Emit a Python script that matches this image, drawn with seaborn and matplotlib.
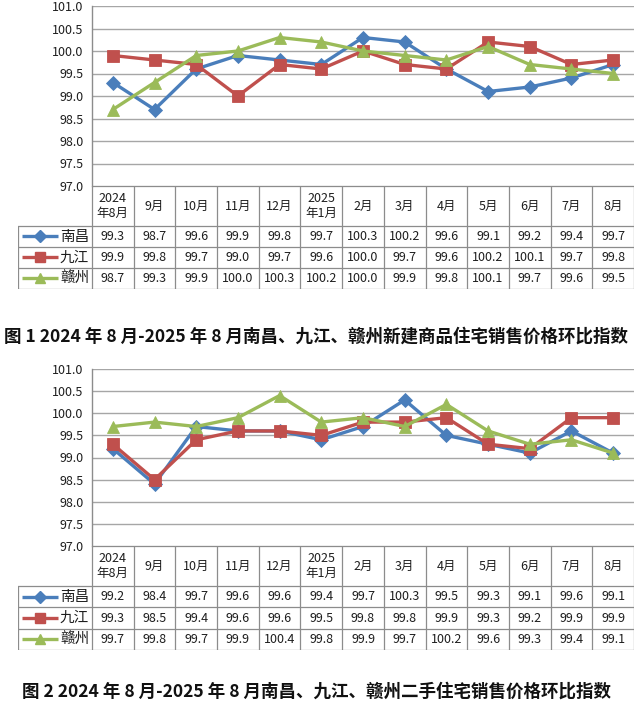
import numpy as np
import pandas as pd
import matplotlib
matplotlib.use("Agg")
import matplotlib.pyplot as plt
import seaborn as sns

months = ["2024\n年8月", "9月", "10月", "11月", "12月", "2025\n年1月", "2月", "3月",
          "4月", "5月", "6月", "7月", "8月"]
cities = ["南昌", "九江", "赣州"]

new_nanchang = [99.3, 98.7, 99.6, 99.9, 99.8, 99.7, 100.3, 100.2, 99.6, 99.1, 99.2, 99.4, 99.7]
new_jiujiang = [99.9, 99.8, 99.7, 99.0, 99.7, 99.6, 100.0, 99.7, 99.6, 100.2, 100.1, 99.7, 99.8]
new_ganzhou = [98.7, 99.3, 99.9, 100.0, 100.3, 100.2, 100.0, 99.9, 99.8, 100.1, 99.7, 99.6, 99.5]

used_nanchang = [99.2, 98.4, 99.7, 99.6, 99.6, 99.4, 99.7, 100.3, 99.5, 99.3, 99.1, 99.6, 99.1]
used_jiujiang = [99.3, 98.5, 99.4, 99.6, 99.6, 99.5, 99.8, 99.8, 99.9, 99.3, 99.2, 99.9, 99.9]
used_ganzhou = [99.7, 99.8, 99.7, 99.9, 100.4, 99.8, 99.9, 99.7, 100.2, 99.6, 99.3, 99.4, 99.1]

title1 = "图 1 2024 年 8 月-2025 年 8 月南昌、九江、赣州新建商品住宅销售价格环比指数"
title2 = "图 2 2024 年 8 月-2025 年 8 月南昌、九江、赣州二手住宅销售价格环比指数"

y_ticks = [97.0, 97.5, 98.0, 98.5, 99.0, 99.5, 100.0, 100.5, 101.0]

sns.set_style("white")
plt.rcParams['font.family'] = ['Noto Sans CJK SC', 'DejaVu Sans']

palette = {"南昌": "#4A7EBB", "九江": "#C0504D", "赣州": "#9BBB59"}
markers = {"南昌": "D", "九江": "s", "赣州": "^"}
msizes = {"南昌": 7, "九江": 9, "赣州": 9}

W, H = 640, 706
fig = plt.figure(figsize=(W / 100, H / 100), dpi=100)
fig.patch.set_facecolor("white")

GRID = "#A6A6A6"
BORDER = "#8C8C8C"
TXT = "#1E1E1E"


def px_axes(x0, y0, x1, y1):
    return fig.add_axes([x0 / W, 1 - y1 / H, (x1 - x0) / W, (y1 - y0) / H])


def draw(series, plot_box, table_box, header_h, row_h, title, title_y):
    px0, py0, px1, py1 = plot_box
    ax = px_axes(px0, py0, px1, py1)
    n = len(months)
    df = pd.DataFrame({
        "x": np.tile(np.arange(n), len(cities)),
        "value": np.concatenate(series),
        "city": np.repeat(cities, n),
    })
    sns.lineplot(data=df, x="x", y="value", hue="city", style="city",
                 markers=markers, dashes=False, palette=palette,
                 linewidth=2.4, markersize=8, markeredgewidth=0.6,
                 legend=False, ax=ax, zorder=3)
    for line, c in zip(ax.get_lines(), cities):
        line.set_markersize(msizes[c])
        line.set_markeredgecolor(palette[c])
    ax.set_xlim(-0.5, n - 0.5)
    ax.set_ylim(97.0, 101.0)
    ax.set_yticks(y_ticks)
    ax.set_yticklabels([f"{v:.1f}" for v in y_ticks], fontsize=9, color=TXT)
    ax.set_xticks([])
    ax.set_xlabel("")
    ax.set_ylabel("")
    ax.yaxis.grid(True, color=GRID, linewidth=1.0)
    ax.set_axisbelow(True)
    for s in ["top", "right", "bottom"]:
        ax.spines[s].set_visible(False)
    ax.spines["left"].set_color(BORDER)
    ax.spines["left"].set_linewidth(1.0)
    ax.tick_params(axis="y", length=0, pad=6)
    ax.set_facecolor("none")

    # data table
    tx0, ty0, tx1, ty1 = table_box
    tab = px_axes(tx0, ty0, tx1, ty1)
    colw = (px1 - px0) / n
    xl = -0.5 - (px0 - tx0) / colw
    total_h = header_h + 3 * row_h
    tab.set_xlim(xl, n - 0.5)
    tab.set_ylim(total_h, 0)
    tab.axis("off")
    lw = 0.9
    tab.plot([-0.5, n - 0.5], [0, 0], color=BORDER, lw=lw)
    for r in range(4):
        yy = header_h + r * row_h
        tab.plot([xl, n - 0.5], [yy, yy], color=BORDER, lw=lw)
    for k in range(n + 1):
        tab.plot([-0.5 + k, -0.5 + k], [0, total_h], color=BORDER, lw=lw)
    tab.plot([xl, xl], [header_h, total_h], color=BORDER, lw=lw)
    for i, m in enumerate(months):
        tab.text(i, header_h / 2, m, ha="center", va="center", fontsize=9,
                 color=TXT, linespacing=1.15)
    for r, (c, vals) in enumerate(zip(cities, series)):
        yc = header_h + r * row_h + row_h / 2
        for i, v in enumerate(vals):
            tab.text(i, yc, f"{v:.1f}", ha="center", va="center", fontsize=9, color=TXT)
        kx0 = xl + 4 / colw
        kx1 = xl + 40 / colw
        tab.plot([kx0, kx1], [yc, yc], color=palette[c], lw=2.4, solid_capstyle="butt")
        tab.plot([(kx0 + kx1) / 2], [yc], marker=markers[c], color=palette[c],
                 markersize=msizes[c] * 0.85, markeredgecolor=palette[c])
        tab.text(xl + 42 / colw, yc, c, ha="left", va="center", fontsize=10.5,
                 color=TXT)

    fig.text(316 / W, 1 - title_y / H, title, ha="center", va="center",
             fontsize=12.6, fontweight="bold", color="#111111")


draw([new_nanchang, new_jiujiang, new_ganzhou], (92, 6, 634, 186),
     (18, 186, 634, 289), 40, 21, title1, 337)
draw([used_nanchang, used_jiujiang, used_ganzhou], (92, 369, 634, 546),
     (18, 546, 634, 650), 40, 21.3, title2, 692)

fig.savefig("out.png", dpi=100, facecolor="white")
